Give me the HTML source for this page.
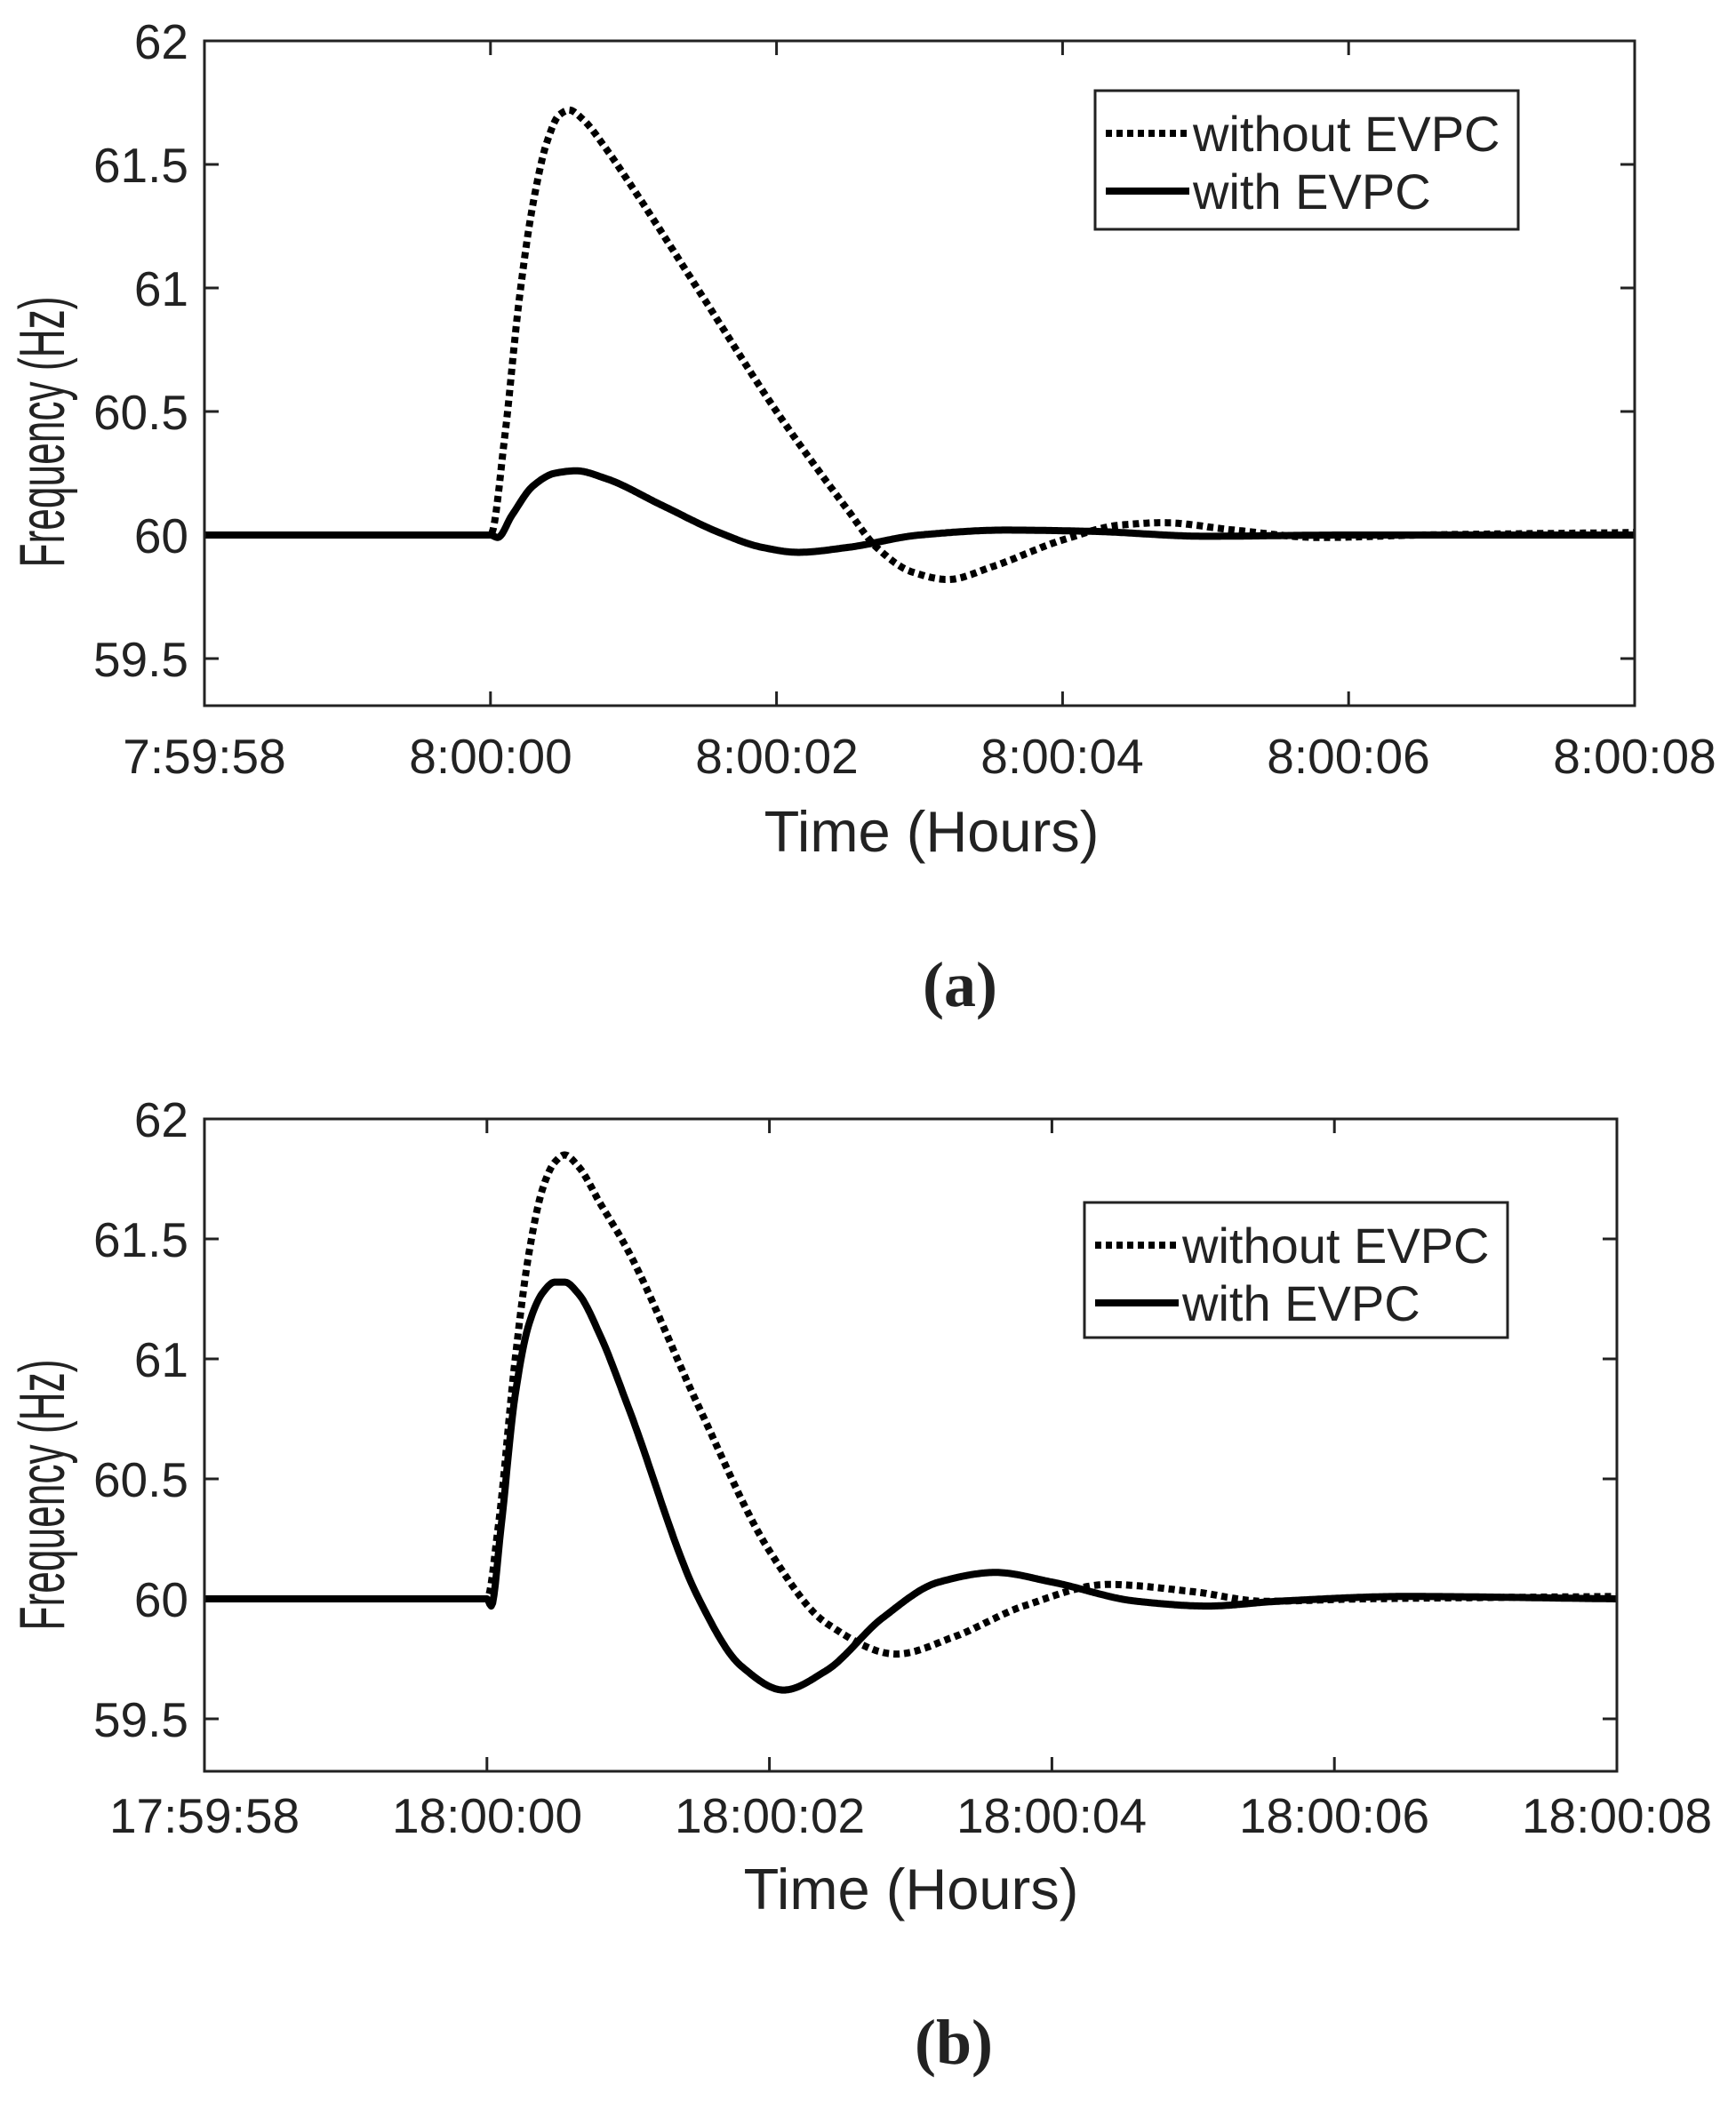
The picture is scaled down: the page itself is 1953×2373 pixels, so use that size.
<!DOCTYPE html>
<html><head><meta charset="utf-8"><style>
html,body{margin:0;padding:0;background:#fff;}
svg{display:block;}
text{font-family:"Liberation Sans",Arial,sans-serif;fill:#222;}
</style></head><body>
<svg id="s" width="1953" height="2373" viewBox="0 0 1953 2373" xmlns="http://www.w3.org/2000/svg">
<rect width="1953" height="2373" fill="#fff"/>
<g id="g"></g>
<g font-size="55" text-anchor="middle">
<text x="230" y="870">7:59:58</text><text x="552" y="870">8:00:00</text><text x="874" y="870">8:00:02</text>
<text x="1195" y="870">8:00:04</text><text x="1517" y="870">8:00:06</text><text x="1839" y="870">8:00:08</text>
<text x="230" y="2062">17:59:58</text><text x="548" y="2062">18:00:00</text><text x="866" y="2062">18:00:02</text>
<text x="1183" y="2062">18:00:04</text><text x="1501" y="2062">18:00:06</text><text x="1819" y="2062">18:00:08</text>
</g>
<g font-size="55" text-anchor="end">
<text x="212" y="66">62</text><text x="212" y="205">61.5</text><text x="212" y="344">61</text>
<text x="212" y="483">60.5</text><text x="212" y="622">60</text><text x="212" y="761">59.5</text>
<text x="212" y="1279">62</text><text x="212" y="1414">61.5</text><text x="212" y="1549">61</text>
<text x="212" y="1684">60.5</text><text x="212" y="1819">60</text><text x="212" y="1954">59.5</text>
</g>
<text x="1048" y="958" font-size="65" text-anchor="middle" fill="#000">Time (Hours)</text>
<text x="1025" y="2148" font-size="65" text-anchor="middle" fill="#000">Time (Hours)</text>
<text transform="translate(72,486) rotate(-90)" font-size="72" text-anchor="middle" fill="#000" textLength="305" lengthAdjust="spacingAndGlyphs">Frequency (Hz)</text>
<text transform="translate(72,1682) rotate(-90)" font-size="72" text-anchor="middle" fill="#000" textLength="305" lengthAdjust="spacingAndGlyphs">Frequency (Hz)</text>
<text x="1080" y="1132" font-size="72" text-anchor="middle" style="font-family:'Liberation Serif',serif;font-weight:bold" fill="#000">(a)</text>
<text x="1073" y="2322" font-size="72" text-anchor="middle" style="font-family:'Liberation Serif',serif;font-weight:bold" fill="#000">(b)</text>
</svg>
<script>
var NS="http://www.w3.org/2000/svg",g=document.getElementById('g');
function el(n,a){var e=document.createElementNS(NS,n);for(var k in a)e.setAttribute(k,a[k]);g.appendChild(e);return e;}
function mono(pts){
 var n=pts.length,xs=pts.map(function(p){return p[0];}),ys=pts.map(function(p){return p[1];}),d=[],m=[];
 for(var i=0;i<n-1;i++)d.push((ys[i+1]-ys[i])/(xs[i+1]-xs[i]));
 m[0]=d[0];m[n-1]=d[n-2];
 for(var i=1;i<n-1;i++){ if(d[i-1]*d[i]<=0)m[i]=0; else {var w1=2*(xs[i+1]-xs[i])+(xs[i]-xs[i-1]),w2=(xs[i+1]-xs[i])+2*(xs[i]-xs[i-1]);m[i]=(w1+w2)/(w1/d[i-1]+w2/d[i]);} }
 return function(t){var i=0;while(i<n-2&&t>xs[i+1])i++;
  var h=xs[i+1]-xs[i],s=(t-xs[i])/h,s2=s*s,s3=s2*s;
  return (2*s3-3*s2+1)*ys[i]+(s3-2*s2+s)*h*m[i]+(-2*s3+3*s2)*ys[i+1]+(s3-s2)*h*m[i+1];};
}
function plot(P,series,leg){
 var X=function(t){return P.l+(P.r-P.l)*(t+2)/10;},Y=function(v){return P.t+(62-v)*P.k;};
 for(var i=0;i<=5;i++){var x=P.l+(P.r-P.l)*i/5;
  el('line',{x1:x,y1:P.b,x2:x,y2:P.b-16,stroke:'#222','stroke-width':3});
  el('line',{x1:x,y1:P.t,x2:x,y2:P.t+16,stroke:'#222','stroke-width':3});}
 for(var j=0;j<=5;j++){var y=Y(62-j*0.5);
  el('line',{x1:P.l,y1:y,x2:P.l+16,y2:y,stroke:'#222','stroke-width':3});
  el('line',{x1:P.r,y1:y,x2:P.r-16,y2:y,stroke:'#222','stroke-width':3});}
 series.forEach(function(s){
  var f=mono(s.pts),d='';
  for(var t=-2;t<=8.0001;t+=0.01){d+=(d?' L':'M')+X(t).toFixed(1)+','+Y(f(t)).toFixed(1);}
  var a={d:d,fill:'none',stroke:'#000','stroke-width':8,'stroke-linejoin':'round'};
  if(s.dot){a['stroke-dasharray']='7 5';}
  el('path',a);
 });
 el('rect',{x:P.l,y:P.t,width:P.r-P.l,height:P.b-P.t,fill:'none',stroke:'#222','stroke-width':3});
 el('rect',{x:leg.x,y:leg.y,width:leg.w,height:leg.h,fill:'#fff',stroke:'#222','stroke-width':3});
 el('line',{x1:leg.x+12,y1:leg.y+48,x2:leg.x+106,y2:leg.y+48,stroke:'#000','stroke-width':8,'stroke-dasharray':'7 5'});
 el('line',{x1:leg.x+12,y1:leg.y+113,x2:leg.x+106,y2:leg.y+113,stroke:'#000','stroke-width':8});
 var t1=el('text',{x:leg.x+110,y:leg.y+68,'font-size':56,fill:'#000'});t1.textContent='without EVPC';
 var t2=el('text',{x:leg.x+110,y:leg.y+133,'font-size':56,fill:'#000'});t2.textContent='with EVPC';
}
plot({l:230,r:1839,t:46,b:794,k:278},[
 {dot:1,pts:[[-2,60],[0,60],[0.1,60.4],[0.2,60.95],[0.3,61.35],[0.4,61.6],[0.48,61.7],[0.55,61.72],[0.65,61.68],[0.8,61.57],[1.0,61.4],[1.5,60.95],[2.0,60.5],[2.5,60.1],[2.7,59.95],[2.95,59.85],[3.2,59.82],[3.5,59.87],[4.0,59.98],[4.4,60.04],[4.7,60.05],[5.2,60.02],[5.8,59.99],[6.5,60],[8,60.01]]},
 {dot:0,pts:[[-2,60],[0,60],[0.05,59.99],[0.15,60.08],[0.3,60.2],[0.45,60.25],[0.6,60.26],[0.8,60.23],[1.2,60.12],[1.6,60.01],[1.9,59.95],[2.15,59.93],[2.5,59.95],[3.0,60.0],[3.6,60.02],[4.2,60.015],[5.0,59.995],[6,60],[8,60]]}
],{x:1232,y:102,w:476,h:156});
plot({l:230,r:1819,t:1259,b:1993,k:270},[
 {dot:1,pts:[[-2,60],[0,60],[0.08,60.3],[0.2,61.0],[0.3,61.45],[0.4,61.72],[0.48,61.82],[0.55,61.85],[0.65,61.8],[0.8,61.65],[1.0,61.45],[1.5,60.8],[2.0,60.2],[2.4,59.9],[2.9,59.77],[3.3,59.84],[3.8,59.97],[4.4,60.06],[5.0,60.03],[5.5,59.99],[6.2,60],[8,60.01]]},
 {dot:0,pts:[[-2,60],[0,60],[0.03,59.97],[0.1,60.3],[0.2,60.85],[0.3,61.15],[0.4,61.28],[0.48,61.32],[0.55,61.32],[0.65,61.27],[0.8,61.1],[1.0,60.8],[1.5,60.0],[1.8,59.72],[2.1,59.62],[2.4,59.7],[2.8,59.92],[3.2,60.07],[3.6,60.11],[4.0,60.07],[4.6,59.99],[5.1,59.97],[5.6,59.99],[6.5,60.01],[8,60]]}
],{x:1220,y:1353,w:476,h:152});
</script>
</body></html>
